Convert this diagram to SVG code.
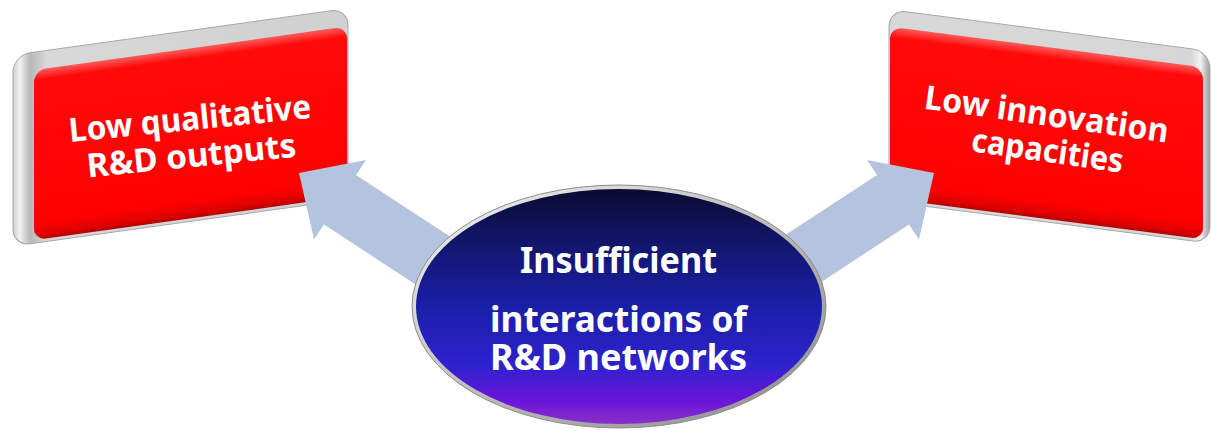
<svg xmlns="http://www.w3.org/2000/svg" width="1211" height="431" viewBox="0 0 1211 431">
<defs>
<style>
.lbl{font-family:"Noto Sans","Open Sans","DejaVu Sans",sans-serif;font-weight:bold;fill:#ffffff}
.box{font-size:33px}
.ell{font-size:35px}
.arrow{fill:#b4c4df}
</style>
<linearGradient id="redFace" x1="0" y1="0" x2="0" y2="1">
<stop offset="0" stop-color="#ff5a5a"/>
<stop offset="0.06" stop-color="#ff0a0a"/>
<stop offset="0.9" stop-color="#ff0000"/>
<stop offset="0.97" stop-color="#e00000"/>
<stop offset="1" stop-color="#b00000"/>
</linearGradient>
<linearGradient id="greyL" x1="0" y1="0" x2="1" y2="0">
<stop offset="0" stop-color="#cfcfcf"/>
<stop offset="0.02" stop-color="#f2f2f2"/>
<stop offset="0.05" stop-color="#b8b8b8"/>
<stop offset="0.1" stop-color="#d8d8d8"/>
<stop offset="1" stop-color="#d0d0d0"/>
</linearGradient>
<linearGradient id="greyR" x1="0" y1="0" x2="1" y2="0">
<stop offset="0" stop-color="#d8d8d8"/>
<stop offset="0.94" stop-color="#d6d6d6"/>
<stop offset="0.97" stop-color="#f2f2f2"/>
<stop offset="1" stop-color="#9a9a9a"/>
</linearGradient>
<linearGradient id="rim" x1="0" y1="0" x2="1" y2="1">
<stop offset="0" stop-color="#f4f4f4"/>
<stop offset="0.5" stop-color="#bdbdbd"/>
<stop offset="1" stop-color="#8a8a8a"/>
</linearGradient>
<linearGradient id="ellFill" x1="0" y1="0" x2="0" y2="1">
<stop offset="0" stop-color="#0a0a30"/>
<stop offset="0.2" stop-color="#111565"/>
<stop offset="0.5" stop-color="#1a1fa8"/>
<stop offset="0.75" stop-color="#2e22cc"/>
<stop offset="0.9" stop-color="#6a14dc"/>
<stop offset="1" stop-color="#8a30c8"/>
</linearGradient>
</defs>

<g id="node-left">
<g transform="matrix(1,-0.14,0,1,0,0)">
<rect x="13" y="57" width="335" height="191" rx="17" fill="url(#greyL)" stroke="#a8a8a8" stroke-width="1"/>
<rect x="34" y="75" width="313" height="170" rx="12" fill="url(#redFace)"/>
</g>
<text class="lbl box" x="191" y="130" text-anchor="middle" textLength="243" lengthAdjust="spacingAndGlyphs" transform="rotate(-5.7 191 130)">Low qualitative</text>
<text class="lbl box" x="192.5" y="167" text-anchor="middle" textLength="210" lengthAdjust="spacingAndGlyphs" transform="rotate(-5.7 192.5 167)">R&amp;D outputs</text>
</g>

<g id="node-right">
<g transform="matrix(1,0.13,0,1,0,0)">
<rect x="889" y="-106" width="321" height="192" rx="17" fill="url(#greyR)" stroke="#a8a8a8" stroke-width="1"/>
<rect x="890" y="-89" width="313" height="172" rx="12" fill="url(#redFace)"/>
</g>
<text class="lbl box" x="1045" y="125.5" text-anchor="middle" textLength="246" lengthAdjust="spacingAndGlyphs" transform="rotate(8 1045 125.5)">Low innovation</text>
<text class="lbl box" x="1046" y="162" text-anchor="middle" textLength="153" lengthAdjust="spacingAndGlyphs" transform="rotate(8 1046 162)">capacities</text>
</g>

<g id="connectors">
<polygon class="arrow" points="299,173 366,160 356,175 524,285 491,334 324,224.5 314,239.6"/>
<polygon class="arrow" points="934,173 867,160 877,175 709,285 742,334 909,224.5 919,239.6"/>
</g>

<g id="node-center">
<ellipse cx="619" cy="306.5" rx="207" ry="121.5" fill="url(#rim)" stroke="#8c8c8c" stroke-width="1"/>
<ellipse cx="619" cy="306.5" rx="203" ry="117.5" fill="url(#ellFill)"/>
<text class="lbl ell" x="618.5" y="273" text-anchor="middle" textLength="197" lengthAdjust="spacingAndGlyphs">Insufficient</text>
<text class="lbl ell" x="618.5" y="332" text-anchor="middle" textLength="257" lengthAdjust="spacingAndGlyphs">interactions of</text>
<text class="lbl ell" x="618.5" y="370" text-anchor="middle" textLength="257" lengthAdjust="spacingAndGlyphs">R&amp;D networks</text>
</g>
</svg>
